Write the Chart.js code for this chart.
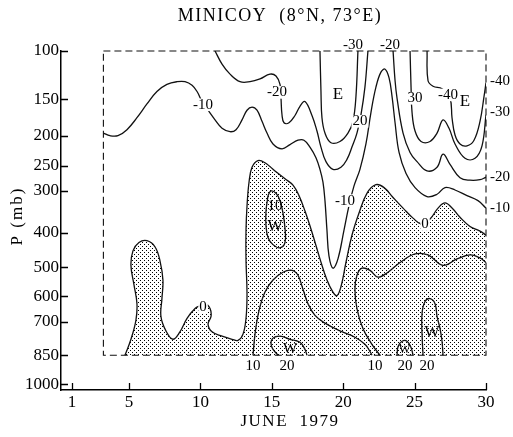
<!DOCTYPE html>
<html><head><meta charset="utf-8">
<script src="https://cdn.jsdelivr.net/npm/chart.js@4.4.1/dist/chart.umd.min.js"></script>
<style>html,body{margin:0;padding:0;background:#fff;}canvas{display:block}</style>
</head><body>
<canvas id="c" width="513" height="437"></canvas>
<script>
// ---- axes ----
const dayTicks = [1, 5, 10, 15, 20, 25, 30];
const pTicks = [100, 150, 200, 250, 300, 400, 500, 600, 700, 850, 1000];
const frameDays = [3.2, 30];
const framePress = [100, 850];

// ---- contours: [day of June, pressure mb] ----
const cM10 = [[3.2,196],[3.66,200],[4.22,200],[4.85,191],[5.55,174],[6.25,156],[6.95,141],[7.65,133],[8.36,130],[8.92,130],[9.41,134],[9.76,141],[10.11,153],[10.53,164],[11.02,177],[11.51,189],[12.07,194],[12.49,191],[12.91,177],[13.26,164],[13.61,160],[13.96,164],[14.31,179],[14.66,196],[15.08,213],[15.71,221],[16.27,214],[16.83,207],[17.25,207],[17.67,218],[18.09,236],[18.37,257],[18.58,282],[18.72,321],[18.86,393],[19.0,465],[19.28,503],[19.63,474],[20.05,393],[20.4,333],[20.75,290],[21.17,257],[21.59,213],[21.94,167],[22.29,136],[22.64,120],[22.93,117],[23.21,126],[23.42,147],[23.63,181],[23.91,227],[24.4,265],[25.03,293],[25.87,312],[26.57,307],[27.13,293],[27.83,298],[28.67,310],[29.44,321],[30,338]];
const cM20a = [[11.02,100],[11.51,112],[12.07,122],[12.77,130],[13.47,130],[14.17,127],[14.87,122],[15.29,124],[15.57,133],[15.64,149],[15.71,170],[15.85,181],[16.2,181],[16.62,171],[16.97,159],[17.32,153],[17.81,171],[18.16,193],[18.44,218],[18.79,243],[19.28,257],[19.84,253],[20.26,239],[20.61,218],[20.96,196],[21.24,170],[21.52,136],[21.73,100]];
const cM30a = [[18.37,100],[18.44,141],[18.51,174],[18.72,196],[19.14,211],[19.77,209],[20.33,196],[20.68,179],[20.89,147],[21.03,100]];
const cM20b = [[23.49,100],[23.63,129],[23.77,149],[24.19,196],[24.68,227],[25.17,243],[25.87,260],[26.57,253],[26.99,230],[27.48,248],[28.18,273],[28.88,278],[29.58,277],[30,272]];
const cM30b = [[24.68,100],[24.75,136],[24.82,167],[25.03,193],[25.45,209],[26.08,209],[26.57,196],[26.99,177],[27.41,189],[27.83,213],[28.53,237],[29.23,237],[29.72,216],[30,170]];
const cM40 = [[25.87,100],[25.94,129],[26.29,135],[26.92,138],[27.48,149],[27.62,174],[27.83,199],[28.18,213],[28.67,216],[29.16,207],[29.58,179],[29.86,147],[30,131]];
const c0 = [[4.71,850],[5.13,775],[5.48,692],[5.55,627],[5.34,558],[5.13,494],[5.27,450],[5.69,426],[6.25,421],[6.81,438],[7.16,479],[7.37,542],[7.3,608],[7.23,677],[7.58,738],[8.07,775],[8.56,742],[9.06,685],[9.62,646],[9.97,635],[10.32,627],[10.67,646],[10.74,677],[10.53,709],[10.81,742],[11.51,761],[12.21,775],[12.63,780],[12.98,752],[13.19,685],[13.26,590],[13.19,479],[13.19,393],[13.26,333],[13.4,282],[13.61,253],[14.03,241],[14.52,245],[15.22,260],[15.92,275],[16.48,288],[16.9,310],[17.32,345],[17.81,398],[18.37,474],[18.86,542],[19.28,584],[19.56,597],[19.84,565],[20.19,485],[20.61,406],[21.1,350],[21.66,305],[22.29,287],[22.86,293],[23.49,314],[24.19,338],[24.89,362],[25.45,376],[26.08,364],[26.64,338],[27.13,326],[27.62,338],[28.18,360],[28.88,383],[29.58,395],[30,406]];
const c10loop = [[14.73,310],[14.59,345],[14.59,381],[14.73,412],[15.08,432],[15.57,441],[15.92,426],[15.92,388],[15.78,350],[15.57,321],[15.29,305],[14.94,300],[14.73,310]];
const c10a = [[13.68,850],[13.82,752],[14.1,654],[14.52,584],[15.08,542],[15.78,516],[16.41,510],[16.83,526],[17.18,574],[17.53,627],[18.02,673],[18.72,705],[19.77,738],[20.82,766],[21.52,798],[21.87,831],[22.01,850]];
const c10b = [[22.57,850],[22.01,798],[21.38,728],[20.96,646],[20.82,574],[20.96,526],[21.31,503],[21.87,510],[22.43,532],[23.13,516],[23.98,485],[25.03,459],[25.94,462],[26.99,494],[27.97,474],[28.88,462],[29.58,471],[30,485]];
const c20a = [[15.43,850],[15.01,813],[15.01,775],[15.57,761],[16.27,775],[16.97,789],[17.32,822],[17.46,850]];
const c20b = [[23.77,850],[23.84,808],[24.12,784],[24.47,784],[24.75,813],[24.89,850]];
const c20c = [[25.59,850],[25.52,752],[25.52,665],[25.73,619],[26.08,608],[26.43,627],[26.57,677],[26.78,728],[26.92,784],[26.99,850]];

// ---- contour labels ----
const inLabels = ['-10','-20','E','20','30','-40','E','-10','0','0','10','W','W','W','W'];
const inDays   = [10.17,15.36,19.63,21.17,25.03,27.34,28.53,20.12,25.73,10.18,15.22,15.22,16.27,24.3,26.22];
const inPress  = [157,142,145,179,149,145,153,321,378,642,333,383,822,822,747];
const topLabels = ['-30','-20'];
const topDays = [20.68, 23.27];
const topPress = 95;
const rightLabels = ['-40','-30','-20','-10'];
const rightPress = [129,167,272,338];
const rightDay = 30.28;
const bottomLabels = ['10','20','10','20','20'];
const bottomDays = [13.68,16.06,22.22,24.33,25.87];
const bottomPress = 903;

// ---- styles ----
const FONT = '"Liberation Serif", "Times New Roman", serif';
const inBg   = [1,1,0,1,1,1,0,1,1,1,0,0,0,0,0];
const inSize = [15,15,17,15,15,15,17,15,15,15,15,16,15,12,16];

const T = p => Math.pow(p, 0.2);
const toPts = arr => arr.map(([d, p]) => ({x: d, y: T(p)}));

const ctx0 = document.getElementById('c').getContext('2d');
const tile = document.createElement('canvas');
tile.width = 4; tile.height = 4;
const tg = tile.getContext('2d');
tg.fillStyle = '#000';
tg.fillRect(0, 0, 1, 1); tg.fillRect(2, 2, 1, 1);
const stipple = ctx0.createPattern(tile, 'repeat');

const lineStyle = {borderColor: '#111', borderWidth: 1.3, pointRadius: 0, tension: 0.4, fill: false};
const contours = [cM10, cM20a, cM30a, cM20b, cM30b, cM40, c0, c10loop, c10a, c10b, c20a, c20b, c20c];
const datasets = contours.map(a => Object.assign({data: toPts(a)}, lineStyle));

datasets.push({
  data: toPts(c0.concat([[30,845],[30,850],[29.95,850]])),
  borderColor: 'rgba(0,0,0,0)', borderWidth: 1, pointRadius: 0, tension: 0.4,
  backgroundColor: stipple, fill: 'shape', order: 10
});
datasets.push({
  data: toPts([[frameDays[0],framePress[0]],[frameDays[1],framePress[0]],[frameDays[1],framePress[1]],[frameDays[0],framePress[1]],[frameDays[0],framePress[0]]]),
  borderColor: '#111', borderWidth: 1.1, borderDash: [7,4], pointRadius: 0, tension: 0, fill: false, clip: false
});

const deco = {
  id: 'deco',
  afterDraw(chart) {
    const {ctx, scales: {x, y}} = chart;
    const X = d => x.getPixelForValue(d);
    const Y = p => y.getPixelForValue(T(p));
    ctx.save();
    ctx.strokeStyle = '#000'; ctx.lineWidth = 1.3;
    ctx.beginPath();
    dayTicks.forEach(d => { const px = Math.round(X(d)) + 0.5; ctx.moveTo(px, y.bottom); ctx.lineTo(px, y.bottom - 7); });
    pTicks.forEach(p => { const py = Math.round(Y(p)) + 0.5; ctx.moveTo(x.left, py); ctx.lineTo(x.left + 7, py); });
    ctx.stroke();

    ctx.fillStyle = '#000';
    ctx.textBaseline = 'middle';
    const txt = (t, px, py, size, align, bg) => {
      ctx.font = size + 'px ' + FONT;
      ctx.textAlign = align;
      if (bg) {
        const w = ctx.measureText(t).width;
        const x0 = align === 'left' ? px : (align === 'right' ? px - w : px - w / 2);
        ctx.fillStyle = '#fff';
        ctx.fillRect(x0 - 1, py - size * 0.42, w + 2, size * 0.84);
        ctx.fillStyle = '#000';
      }
      ctx.fillText(t, px, py);
    };
    inLabels.forEach((t, i) => txt(t, X(inDays[i]), Y(inPress[i]), inSize[i], 'center', inBg[i]));
    topLabels.forEach((t, i) => txt(t, X(topDays[i]), Y(topPress), 15, 'center', 0));
    rightLabels.forEach((t, i) => txt(t, X(rightDay), Y(rightPress[i]), 15, 'left', 0));
    bottomLabels.forEach((t, i) => txt(t, X(bottomDays[i]), Y(bottomPress), 15, 'center', 0));

    ctx.letterSpacing = '1.5px';
    txt('MINICOY  (8°N, 73°E)', 280, 16, 18, 'center', 0);
    txt('JUNE  1979', 290, 422, 17, 'center', 0);
    ctx.translate(18, 216);
    ctx.rotate(-Math.PI / 2);
    ctx.letterSpacing = '2px';
    txt('P (mb)', 0, 0, 17, 'center', 0);
    ctx.restore();
  }
};

new Chart(ctx0, {
  type: 'line',
  data: {datasets},
  plugins: [deco],
  options: {
    responsive: false, animation: false, devicePixelRatio: 1,
    layout: {padding: {left: 0, top: 51, right: 27, bottom: 0}},
    plugins: {legend: {display: false}, tooltip: {enabled: false}, title: {display: false}},
    scales: {
      x: {
        type: 'linear', min: 0.23, max: 30,
        grid: {display: false, drawTicks: false},
        border: {display: true, color: '#000', width: 1.5},
        ticks: {padding: 2, color: '#000', font: {family: FONT, size: 17}, autoSkip: false, maxRotation: 0,
                callback: (v, i) => String(dayTicks[i])},
        afterBuildTicks: s => { s.ticks = dayTicks.map(v => ({value: v})); },
        afterFit: s => { s.height = 47; }
      },
      y: {
        type: 'linear', reverse: true, min: T(100), max: T(1033),
        grid: {display: false, drawTicks: false},
        border: {display: true, color: '#000', width: 1.5},
        ticks: {padding: 2, color: '#000', font: {family: FONT, size: 17}, autoSkip: false,
                callback: (v, i) => String(pTicks[i])},
        afterBuildTicks: s => { s.ticks = pTicks.map(p => ({value: T(p)})); },
        afterFit: s => { s.width = 61; }
      }
    }
  }
});
</script>
</body></html>
